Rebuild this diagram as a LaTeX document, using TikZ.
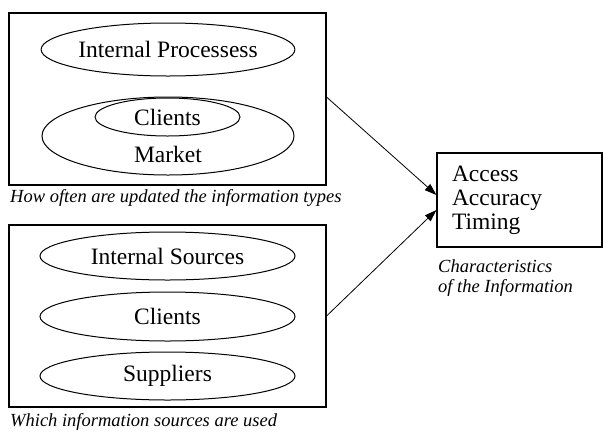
\documentclass[tikz,border=0pt]{standalone}
\usepackage{fontspec}
\setmainfont{Liberation Serif}
\usetikzlibrary{shapes.geometric,arrows.meta}
\begin{document}
\begin{tikzpicture}[x=1pt,y=-1pt,
  box/.style={draw,line width=1.1pt,inner sep=0pt},
  oval/.style={draw,ellipse,line width=1pt,inner sep=0pt,font=\fontsize{23.5}{24}\selectfont},
  lbl/.style={inner sep=0pt,font=\fontsize{23.5}{24}\selectfont},
  captext/.style={inner sep=0pt,anchor=west,align=left,font=\fontsize{18.5}{20}\selectfont\itshape},
  arr/.style={-{Triangle[length=12pt,width=8pt]},line width=0.8pt}]
\useasboundingbox (0,0) rectangle (603,432);
\fill[white] (0,0) rectangle (603,432);
% top box
\node[box,minimum width=317pt,minimum height=172pt] (topbox) at (167.5,99) {};
\node[oval,minimum width=252pt,minimum height=53pt] (intproc) at (168,49.5) {Internal Processess};
\node[oval,minimum width=252pt,minimum height=78pt] (market) at (168,136) {};
\node[oval,minimum width=145pt,minimum height=38pt] (clientsin) at (167.5,117) {Clients};
\node[lbl] (marketlbl) at (168,154) {Market};
\node[captext] (cap1) at (10,197.5) {How often are updated the information types};
% bottom box
\node[box,minimum width=317pt,minimum height=182pt] (botbox) at (167.5,316) {};
\node[oval,minimum width=255pt,minimum height=48pt] (intsrc) at (167.5,256) {Internal Sources};
\node[oval,minimum width=255pt,minimum height=49pt] (clients) at (167.5,316.5) {Clients};
\node[oval,minimum width=255pt,minimum height=48pt] (suppliers) at (167.5,376) {Suppliers};
\node[captext] (cap2) at (10,422) {Which information sources are used};
% right box
\node[box,minimum height=94pt,text width=135pt,inner xsep=15pt,align=left,font=\fontsize{23.5}{24}\selectfont] (charbox) at (519.5,200) {Access\\Accuracy\\Timing};
\node[captext] (cap3) at (438,278) {Characteristics\\of the Information};
% arrows
\draw[arr] ([yshift=2pt]topbox.east) -- ([yshift=5pt]charbox.west);
\draw[arr] (botbox.east) -- ([yshift=-10pt]charbox.west);
\end{tikzpicture}
\end{document}
